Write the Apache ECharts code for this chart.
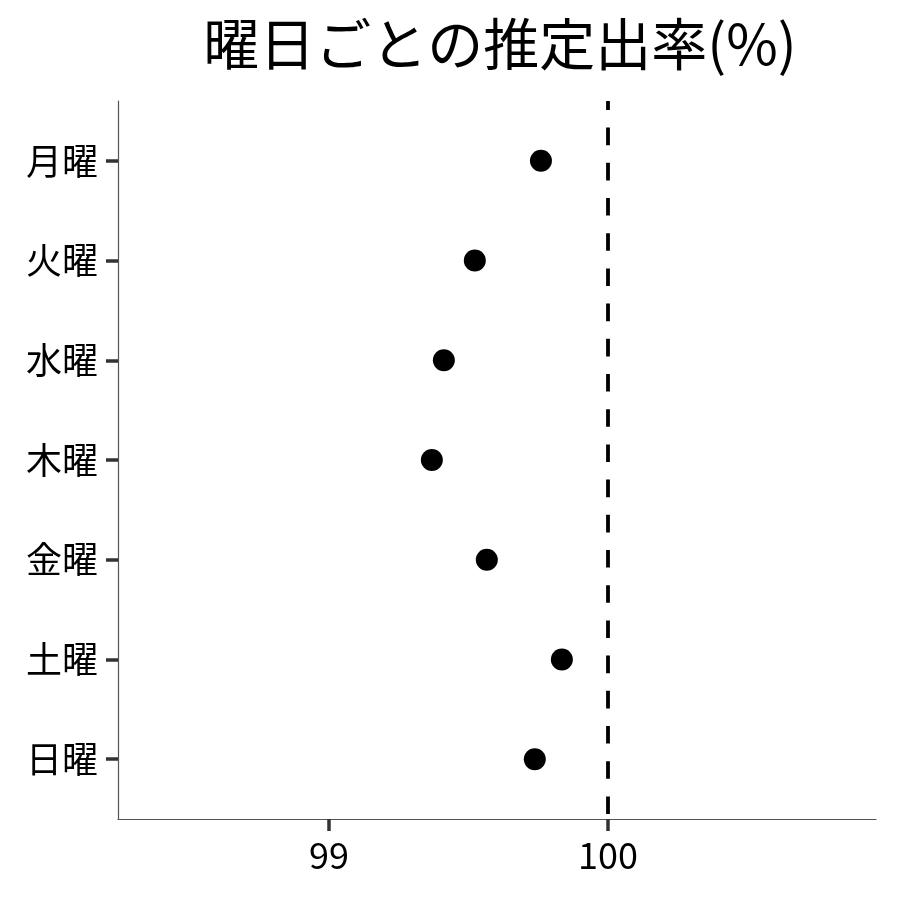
<!DOCTYPE html>
<html>
<head>
    <meta charset="utf-8">
    <script src="https://cdn.jsdelivr.net/npm/echarts@6/dist/echarts.min.js"></script>
</head>
<body style="margin:0">
    <div id="main" style="width: 900px; height: 900px"></div>
    <script type="text/javascript">
        var days = ['月曜', '火曜', '水曜', '木曜', '金曜', '土曜', '日曜'];
        var rates = [99.76, 99.523, 99.412, 99.369, 99.566, 99.835, 99.738];
        var xTicks = [99, 100];
        var refLine = 100;

        var font = '"Noto Sans CJK JP", "Noto Sans", sans-serif';
        var points = [];
        for (var i = 0; i < days.length; i++) {
            points.push([rates[i], i + 1]);
        }
        var yPos = [];
        for (var j = 0; j < days.length; j++) {
            yPos.push(j + 1);
        }

        var myChart = echarts.init(document.getElementById('main'));
        var option = {
            animation: false,
            title: {
                text: '曜日ごとの推定出率(%)',
                left: 495,
                textAlign: 'center',
                top: 11,
                textStyle: { fontFamily: font, fontSize: 56, fontWeight: 'normal', color: '#000' }
            },
            grid: { left: 118, right: 24, top: 101, bottom: 81 },
            xAxis: {
                type: 'value',
                min: 98.244,
                max: 100.961,
                splitLine: { show: false },
                axisLine: { show: true, lineStyle: { color: '#555', width: 1.2 } },
                axisTick: { show: true, customValues: xTicks, length: 12, lineStyle: { color: '#333', width: 3.5 } },
                axisLabel: { customValues: xTicks, fontFamily: font, fontSize: 36, color: '#000', margin: 18 }
            },
            yAxis: {
                type: 'value',
                inverse: true,
                min: 0.4,
                max: 7.6,
                splitLine: { show: false },
                axisLine: { show: true, lineStyle: { color: '#555', width: 1.2 } },
                axisTick: { show: true, customValues: yPos, length: 12, lineStyle: { color: '#333', width: 3.5 } },
                axisLabel: {
                    customValues: yPos,
                    fontFamily: font, fontSize: 36, color: '#000', margin: 20,
                    formatter: function (v) { return days[Math.round(v) - 1] || ''; }
                }
            },
            series: [{
                type: 'scatter',
                data: points,
                symbol: 'circle',
                symbolSize: 22,
                itemStyle: { color: '#000', opacity: 1 },
                markLine: {
                    silent: true,
                    symbol: 'none',
                    label: { show: false },
                    lineStyle: { color: '#000', width: 3.8, type: [17.6, 17.6], dashOffset: 8.6 },
                    data: [{ xAxis: refLine }]
                }
            }]
        };
        myChart.setOption(option);
    </script>
</body>
</html>
